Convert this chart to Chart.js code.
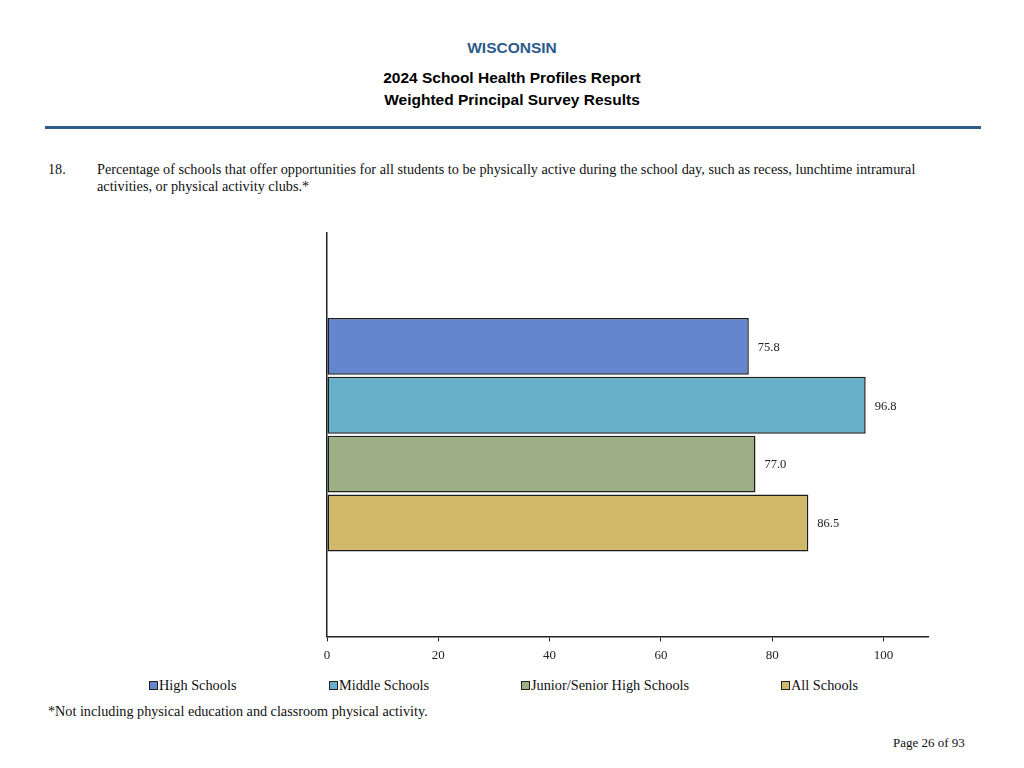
<!DOCTYPE html>
<html>
<head>
<meta charset="utf-8">
<script src="https://cdn.jsdelivr.net/npm/chart.js@4.4.1/dist/chart.umd.min.js"></script>
<style>
  body { margin: 0; width: 1024px; height: 768px; background: #fff; position: relative; overflow: hidden; }
  .hdr { position: absolute; left: 0; width: 1024px; text-align: center; font-family: "Liberation Sans", Arial, sans-serif; font-weight: bold; font-size: 15.5px; }
  .rule { position: absolute; left: 45px; width: 936px; top: 126px; height: 3px; background: #2e5b88; }
  .serif { position: absolute; font-family: "Liberation Serif", "Times New Roman", serif; font-size: 14px; color: #111; white-space: nowrap; }
  #wrap { position: absolute; left: 0; top: 220px; width: 1024px; height: 450px; }
  .leg { position: absolute; top: 677px; font-family: "Liberation Serif", serif; font-size: 14.3px; color: #111; white-space: nowrap; }
  .leg i { display: inline-block; width: 7px; height: 7px; border: 1px solid #222; margin-right: 1px; vertical-align: 0px; }
</style>
</head>
<body>
<div class="hdr" style="top:39px;color:#2b5b8a;">WISCONSIN</div>
<div class="hdr" style="top:69px;">2024 School Health Profiles Report</div>
<div class="hdr" style="top:91px;">Weighted Principal Survey Results</div>
<div class="rule"></div>
<div class="serif" style="left:48px;top:161px;font-size:14.2px;">18.</div>
<div class="serif" style="left:97px;top:161px;font-size:14.25px;line-height:17px;">Percentage of schools that offer opportunities for all students to be physically active during the school day, such as recess, lunchtime intramural<br>activities, or physical activity clubs.*</div>
<div id="wrap"><canvas id="chart"></canvas></div>
<div id="legend"></div>
<div class="serif" style="left:48px;top:703px;font-size:14.2px;">*Not including physical education and classroom physical activity.</div>
<div class="serif" style="left:893px;top:735px;font-size:13px;">Page 26 of 93</div>
<script>
var categories = [''];
var seriesNames = ['High Schools', 'Middle Schools', 'Junior/Senior High Schools', 'All Schools'];
var seriesValues = [[75.8], [96.8], [77.0], [86.5]];
var xTicks = [0, 20, 40, 60, 80, 100];

var fillColors = ['#6585cf', '#66b0c9', '#9caf85', '#d1b86a'];
var legendLeft = [149, 329, 521, 781];

var datasets = seriesNames.map(function (name, i) {
  return {
    label: name,
    data: seriesValues[i],
    backgroundColor: fillColors[i],
    borderColor: '#1c1c1c',
    borderWidth: 1.5,
    borderSkipped: false,
    categoryPercentage: 0.584,
    barPercentage: 0.966
  };
});

var valueLabels = {
  id: 'valueLabels',
  afterDatasetsDraw: function (chart) {
    var ctx = chart.ctx;
    ctx.save();
    ctx.font = '12.5px "Liberation Serif", serif';
    ctx.fillStyle = '#222';
    ctx.textAlign = 'left';
    ctx.textBaseline = 'middle';
    chart.data.datasets.forEach(function (ds, i) {
      chart.getDatasetMeta(i).data.forEach(function (bar, j) {
        ctx.fillText(ds.data[j].toFixed(1), bar.x + 9, bar.y + 1);
      });
    });
    ctx.restore();
  }
};

new Chart(document.getElementById('chart'), {
  type: 'bar',
  data: { labels: categories, datasets: datasets },
  plugins: [valueLabels],
  options: {
    indexAxis: 'y',
    animation: false,
    responsive: true,
    maintainAspectRatio: false,
    layout: { padding: { left: 327, right: 96, top: 13, bottom: 1 } },
    plugins: { legend: { display: false }, tooltip: { enabled: false } },
    scales: {
      x: {
        min: 0,
        max: 108,
        afterBuildTicks: function (axis) {
          axis.ticks = xTicks.map(function (v) { return { value: v }; });
        },
        grid: { drawOnChartArea: false, drawTicks: true, tickLength: 5, color: '#222' },
        border: { display: true, color: '#222', width: 1.5 },
        ticks: { color: '#222', padding: 6, font: { family: '"Liberation Serif", serif', size: 13 } }
      },
      y: {
        grid: { display: false, drawTicks: false },
        border: { display: true, color: '#222', width: 1.5 },
        ticks: { display: false }
      }
    }
  }
});

var legend = document.getElementById('legend');
seriesNames.forEach(function (name, i) {
  var d = document.createElement('div');
  d.className = 'leg';
  d.style.left = legendLeft[i] + 'px';
  d.innerHTML = '<i style="background:' + fillColors[i] + '"></i>' + name;
  legend.appendChild(d);
});
</script>
</body>
</html>
